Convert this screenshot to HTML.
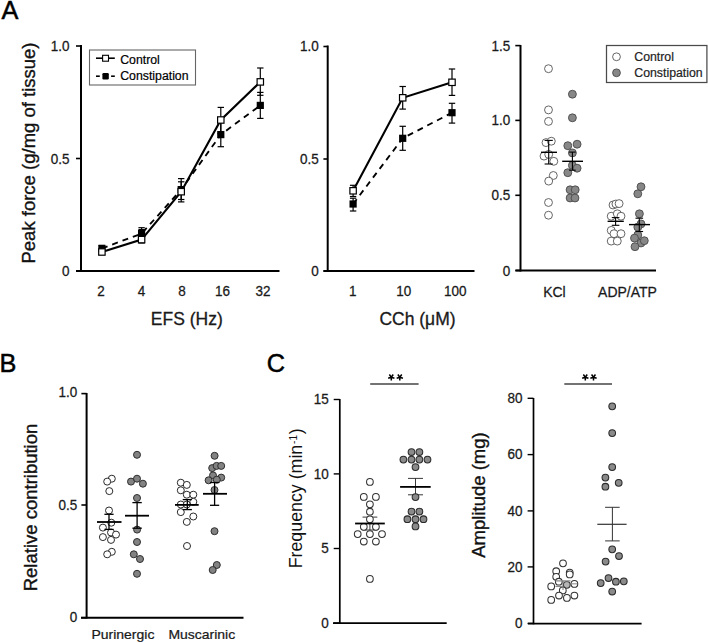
<!DOCTYPE html>
<html><head><meta charset="utf-8"><style>
html,body{margin:0;padding:0;background:#fff;}
body{width:708px;height:643px;overflow:hidden;}
svg{display:block;font-family:"Liberation Sans", sans-serif;}
</style></head><body>
<svg width="708" height="643" viewBox="0 0 708 643">
<rect width="708" height="643" fill="#fff"/>
<text x="1.5" y="19.0" font-size="25.3" text-anchor="start" font-weight="normal" fill="#000" stroke="#000" stroke-width="0.5">A</text>
<text x="-0.6" y="372.2" font-size="25.3" text-anchor="start" font-weight="normal" fill="#000" stroke="#000" stroke-width="0.5">B</text>
<text x="266.8" y="372" font-size="25.3" text-anchor="start" font-weight="normal" fill="#000" stroke="#000" stroke-width="0.5">C</text>
<line x1="81" y1="45" x2="81" y2="272" stroke="#000" stroke-width="2" />
<line x1="76" y1="46" x2="81" y2="46" stroke="#000" stroke-width="1.6" />
<text transform="translate(69.5,51.3) scale(1,1.1)" font-size="13.5" text-anchor="end" font-weight="normal" fill="#1a1a1a" stroke="#1a1a1a" stroke-width="0.25" >1.0</text>
<line x1="76" y1="158.5" x2="81" y2="158.5" stroke="#000" stroke-width="1.6" />
<text transform="translate(69.5,163.8) scale(1,1.1)" font-size="13.5" text-anchor="end" font-weight="normal" fill="#1a1a1a" stroke="#1a1a1a" stroke-width="0.25" >0.5</text>
<line x1="76" y1="271" x2="81" y2="271" stroke="#000" stroke-width="1.6" />
<text transform="translate(69.5,275.8) scale(1,1.1)" font-size="13.5" text-anchor="end" font-weight="normal" fill="#1a1a1a" stroke="#1a1a1a" stroke-width="0.25" >0</text>
<line x1="76" y1="271" x2="279.5" y2="271" stroke="#000" stroke-width="2" />
<text transform="translate(101,296) scale(1,1.1)" font-size="13.5" text-anchor="middle" font-weight="normal" fill="#1a1a1a" stroke="#1a1a1a" stroke-width="0.25" >2</text>
<text transform="translate(141.5,296) scale(1,1.1)" font-size="13.5" text-anchor="middle" font-weight="normal" fill="#1a1a1a" stroke="#1a1a1a" stroke-width="0.25" >4</text>
<text transform="translate(181.9,296) scale(1,1.1)" font-size="13.5" text-anchor="middle" font-weight="normal" fill="#1a1a1a" stroke="#1a1a1a" stroke-width="0.25" >8</text>
<text transform="translate(222.4,296) scale(1,1.1)" font-size="13.5" text-anchor="middle" font-weight="normal" fill="#1a1a1a" stroke="#1a1a1a" stroke-width="0.25" >16</text>
<text transform="translate(263,296) scale(1,1.1)" font-size="13.5" text-anchor="middle" font-weight="normal" fill="#1a1a1a" stroke="#1a1a1a" stroke-width="0.25" >32</text>
<text x="186.8" y="325.4" font-size="17.5" text-anchor="middle" font-weight="normal" fill="#1a1a1a" stroke="#1a1a1a" stroke-width="0.3" >EFS (Hz)</text>
<text transform="translate(35,153) rotate(-90)" font-size="18.5" text-anchor="middle" fill="#111" stroke="#111" stroke-width="0.35" >Peak force (g/mg of tissue)</text>
<rect x="89.5" y="50" width="106" height="35" fill="#fff" stroke="#666" stroke-width="1.1"/>
<line x1="96" y1="58.2" x2="114.8" y2="58.2" stroke="#000" stroke-width="1.6" />
<rect x="102.6" y="55.3" width="5.9" height="5.9" fill="#fff" stroke="#000" stroke-width="1.1"/>
<line x1="96" y1="76.2" x2="99.8" y2="76.2" stroke="#000" stroke-width="1.6" />
<line x1="111.1" y1="76.2" x2="114.8" y2="76.2" stroke="#000" stroke-width="1.6" />
<rect x="102.4" y="73" width="6.4" height="6.4" rx="1.2" fill="#000"/>
<text x="120.2" y="63.6" font-size="12.3" text-anchor="start" font-weight="normal" fill="#000" stroke="#000" stroke-width="0.2" >Control</text>
<text x="120.2" y="79.5" font-size="12.3" text-anchor="start" font-weight="normal" fill="#000" stroke="#000" stroke-width="0.2" >Constipation</text>
<line x1="101.9" y1="245.5" x2="101.9" y2="251" stroke="#000" stroke-width="1.2" />
<line x1="98.7" y1="245.5" x2="105.10000000000001" y2="245.5" stroke="#000" stroke-width="1.2" />
<line x1="98.7" y1="251" x2="105.10000000000001" y2="251" stroke="#000" stroke-width="1.2" />
<line x1="101.9" y1="249.5" x2="101.9" y2="254.5" stroke="#000" stroke-width="1.2" />
<line x1="98.7" y1="249.5" x2="105.10000000000001" y2="249.5" stroke="#000" stroke-width="1.2" />
<line x1="98.7" y1="254.5" x2="105.10000000000001" y2="254.5" stroke="#000" stroke-width="1.2" />
<line x1="141.6" y1="227.7" x2="141.6" y2="239.5" stroke="#000" stroke-width="1.2" />
<line x1="138.4" y1="227.7" x2="144.79999999999998" y2="227.7" stroke="#000" stroke-width="1.2" />
<line x1="138.4" y1="239.5" x2="144.79999999999998" y2="239.5" stroke="#000" stroke-width="1.2" />
<line x1="141.6" y1="229.6" x2="141.6" y2="243" stroke="#000" stroke-width="1.2" />
<line x1="138.4" y1="229.6" x2="144.79999999999998" y2="229.6" stroke="#000" stroke-width="1.2" />
<line x1="138.4" y1="243" x2="144.79999999999998" y2="243" stroke="#000" stroke-width="1.2" />
<line x1="181.2" y1="181.8" x2="181.2" y2="199.5" stroke="#000" stroke-width="1.2" />
<line x1="178.0" y1="181.8" x2="184.39999999999998" y2="181.8" stroke="#000" stroke-width="1.2" />
<line x1="178.0" y1="199.5" x2="184.39999999999998" y2="199.5" stroke="#000" stroke-width="1.2" />
<line x1="181.2" y1="178.6" x2="181.2" y2="201.9" stroke="#000" stroke-width="1.2" />
<line x1="178.0" y1="178.6" x2="184.39999999999998" y2="178.6" stroke="#000" stroke-width="1.2" />
<line x1="178.0" y1="201.9" x2="184.39999999999998" y2="201.9" stroke="#000" stroke-width="1.2" />
<line x1="220.8" y1="121" x2="220.8" y2="146.7" stroke="#000" stroke-width="1.2" />
<line x1="217.60000000000002" y1="121" x2="224.0" y2="121" stroke="#000" stroke-width="1.2" />
<line x1="217.60000000000002" y1="146.7" x2="224.0" y2="146.7" stroke="#000" stroke-width="1.2" />
<line x1="220.8" y1="107.4" x2="220.8" y2="133.5" stroke="#000" stroke-width="1.2" />
<line x1="217.60000000000002" y1="107.4" x2="224.0" y2="107.4" stroke="#000" stroke-width="1.2" />
<line x1="217.60000000000002" y1="133.5" x2="224.0" y2="133.5" stroke="#000" stroke-width="1.2" />
<line x1="260.3" y1="92.4" x2="260.3" y2="118.4" stroke="#000" stroke-width="1.2" />
<line x1="257.1" y1="92.4" x2="263.5" y2="92.4" stroke="#000" stroke-width="1.2" />
<line x1="257.1" y1="118.4" x2="263.5" y2="118.4" stroke="#000" stroke-width="1.2" />
<line x1="260.3" y1="68" x2="260.3" y2="95.3" stroke="#000" stroke-width="1.2" />
<line x1="257.1" y1="68" x2="263.5" y2="68" stroke="#000" stroke-width="1.2" />
<line x1="257.1" y1="95.3" x2="263.5" y2="95.3" stroke="#000" stroke-width="1.2" />
<polyline points="101.9,248.4 141.6,233.6 181.2,189.6 220.8,134.6 260.3,105.4" fill="none" stroke="#000" stroke-width="1.85" stroke-dasharray="6,5"/>
<polyline points="101.9,252.0 141.6,239.6 181.2,191.7 220.8,120.0 260.3,81.9" fill="none" stroke="#000" stroke-width="2.1"/>
<rect x="98.30000000000001" y="244.8" width="7.2" height="7.2" fill="#000"/>
<rect x="138.0" y="230.0" width="7.2" height="7.2" fill="#000"/>
<rect x="177.6" y="186.0" width="7.2" height="7.2" fill="#000"/>
<rect x="217.20000000000002" y="131.0" width="7.2" height="7.2" fill="#000"/>
<rect x="256.7" y="101.80000000000001" width="7.2" height="7.2" fill="#000"/>
<rect x="98.7" y="248.8" width="6.4" height="6.4" fill="#fff" stroke="#000" stroke-width="1.2"/>
<rect x="138.4" y="236.4" width="6.4" height="6.4" fill="#fff" stroke="#000" stroke-width="1.2"/>
<rect x="178.0" y="188.5" width="6.4" height="6.4" fill="#fff" stroke="#000" stroke-width="1.2"/>
<rect x="217.60000000000002" y="116.8" width="6.4" height="6.4" fill="#fff" stroke="#000" stroke-width="1.2"/>
<rect x="257.1" y="78.7" width="6.4" height="6.4" fill="#fff" stroke="#000" stroke-width="1.2"/>
<line x1="327.7" y1="45.5" x2="327.7" y2="272" stroke="#000" stroke-width="2" />
<line x1="323.4" y1="46.5" x2="327.7" y2="46.5" stroke="#000" stroke-width="1.6" />
<text transform="translate(318.8,51.3) scale(1,1.1)" font-size="13.5" text-anchor="end" font-weight="normal" fill="#1a1a1a" stroke="#1a1a1a" stroke-width="0.25" >1.0</text>
<line x1="323.4" y1="159" x2="327.7" y2="159" stroke="#000" stroke-width="1.6" />
<text transform="translate(318.8,164) scale(1,1.1)" font-size="13.5" text-anchor="end" font-weight="normal" fill="#1a1a1a" stroke="#1a1a1a" stroke-width="0.25" >0.5</text>
<line x1="323.4" y1="271" x2="327.7" y2="271" stroke="#000" stroke-width="1.6" />
<text transform="translate(318.8,276) scale(1,1.1)" font-size="13.5" text-anchor="end" font-weight="normal" fill="#1a1a1a" stroke="#1a1a1a" stroke-width="0.25" >0</text>
<line x1="323.5" y1="271" x2="474.5" y2="271" stroke="#000" stroke-width="2" />
<text transform="translate(352.8,296) scale(1,1.1)" font-size="13.5" text-anchor="middle" font-weight="normal" fill="#1a1a1a" stroke="#1a1a1a" stroke-width="0.25" >1</text>
<text transform="translate(403.8,296) scale(1,1.1)" font-size="13.5" text-anchor="middle" font-weight="normal" fill="#1a1a1a" stroke="#1a1a1a" stroke-width="0.25" >10</text>
<text transform="translate(455.2,296) scale(1,1.1)" font-size="13.5" text-anchor="middle" font-weight="normal" fill="#1a1a1a" stroke="#1a1a1a" stroke-width="0.25" >100</text>
<text x="417.5" y="325.4" font-size="17.5" text-anchor="middle" font-weight="normal" fill="#1a1a1a" stroke="#1a1a1a" stroke-width="0.3" >CCh (μM)</text>
<line x1="353.1" y1="198.2" x2="353.1" y2="211" stroke="#000" stroke-width="1.2" />
<line x1="349.90000000000003" y1="198.2" x2="356.3" y2="198.2" stroke="#000" stroke-width="1.2" />
<line x1="349.90000000000003" y1="211" x2="356.3" y2="211" stroke="#000" stroke-width="1.2" />
<line x1="353.1" y1="185.3" x2="353.1" y2="196.5" stroke="#000" stroke-width="1.2" />
<line x1="349.90000000000003" y1="185.3" x2="356.3" y2="185.3" stroke="#000" stroke-width="1.2" />
<line x1="349.90000000000003" y1="196.5" x2="356.3" y2="196.5" stroke="#000" stroke-width="1.2" />
<line x1="402.7" y1="126.3" x2="402.7" y2="150.3" stroke="#000" stroke-width="1.2" />
<line x1="399.5" y1="126.3" x2="405.9" y2="126.3" stroke="#000" stroke-width="1.2" />
<line x1="399.5" y1="150.3" x2="405.9" y2="150.3" stroke="#000" stroke-width="1.2" />
<line x1="402.7" y1="86.5" x2="402.7" y2="109.1" stroke="#000" stroke-width="1.2" />
<line x1="399.5" y1="86.5" x2="405.9" y2="86.5" stroke="#000" stroke-width="1.2" />
<line x1="399.5" y1="109.1" x2="405.9" y2="109.1" stroke="#000" stroke-width="1.2" />
<line x1="452" y1="103.3" x2="452" y2="123.1" stroke="#000" stroke-width="1.2" />
<line x1="448.8" y1="103.3" x2="455.2" y2="103.3" stroke="#000" stroke-width="1.2" />
<line x1="448.8" y1="123.1" x2="455.2" y2="123.1" stroke="#000" stroke-width="1.2" />
<line x1="452" y1="69" x2="452" y2="95.4" stroke="#000" stroke-width="1.2" />
<line x1="448.8" y1="69" x2="455.2" y2="69" stroke="#000" stroke-width="1.2" />
<line x1="448.8" y1="95.4" x2="455.2" y2="95.4" stroke="#000" stroke-width="1.2" />
<polyline points="353.1,204.0 402.7,138.3 452,112.7" fill="none" stroke="#000" stroke-width="1.85" stroke-dasharray="6,5"/>
<polyline points="353.1,190.8 402.7,97.8 452,82.3" fill="none" stroke="#000" stroke-width="2.1"/>
<rect x="349.5" y="200.4" width="7.2" height="7.2" fill="#000"/>
<rect x="399.09999999999997" y="134.70000000000002" width="7.2" height="7.2" fill="#000"/>
<rect x="448.4" y="109.10000000000001" width="7.2" height="7.2" fill="#000"/>
<rect x="349.90000000000003" y="187.60000000000002" width="6.4" height="6.4" fill="#fff" stroke="#000" stroke-width="1.2"/>
<rect x="399.5" y="94.6" width="6.4" height="6.4" fill="#fff" stroke="#000" stroke-width="1.2"/>
<rect x="448.8" y="79.1" width="6.4" height="6.4" fill="#fff" stroke="#000" stroke-width="1.2"/>
<line x1="520.5" y1="45" x2="520.5" y2="271.5" stroke="#000" stroke-width="2" />
<line x1="515.3" y1="45.6" x2="520.5" y2="45.6" stroke="#000" stroke-width="1.6" />
<text transform="translate(510.3,50.6) scale(1,1.1)" font-size="13.5" text-anchor="end" font-weight="normal" fill="#1a1a1a" stroke="#1a1a1a" stroke-width="0.25" >1.5</text>
<line x1="515.3" y1="120.4" x2="520.5" y2="120.4" stroke="#000" stroke-width="1.6" />
<text transform="translate(510.3,125.4) scale(1,1.1)" font-size="13.5" text-anchor="end" font-weight="normal" fill="#1a1a1a" stroke="#1a1a1a" stroke-width="0.25" >1.0</text>
<line x1="515.3" y1="195.3" x2="520.5" y2="195.3" stroke="#000" stroke-width="1.6" />
<text transform="translate(510.3,200.3) scale(1,1.1)" font-size="13.5" text-anchor="end" font-weight="normal" fill="#1a1a1a" stroke="#1a1a1a" stroke-width="0.25" >0.5</text>
<line x1="515.3" y1="270.5" x2="520.5" y2="270.5" stroke="#000" stroke-width="1.6" />
<text transform="translate(510.3,275.5) scale(1,1.1)" font-size="13.5" text-anchor="end" font-weight="normal" fill="#1a1a1a" stroke="#1a1a1a" stroke-width="0.25" >0</text>
<line x1="515.5" y1="270.5" x2="656" y2="270.5" stroke="#000" stroke-width="2" />
<text transform="translate(554.4,296.6) scale(1,1.03)" font-size="14" text-anchor="middle" font-weight="normal" fill="#1a1a1a" stroke="#1a1a1a" stroke-width="0.25" >KCl</text>
<text transform="translate(627.5,296.6) scale(1,1.03)" font-size="14" text-anchor="middle" font-weight="normal" fill="#1a1a1a" stroke="#1a1a1a" stroke-width="0.25" >ADP/ATP</text>
<rect x="606.5" y="45.5" width="100.4" height="37" fill="#fff" stroke="#4a4a4a" stroke-width="1.25"/>
<circle cx="616.5" cy="56.8" r="3.9" fill="#fff" stroke="#555" stroke-width="0.9"/>
<circle cx="616.5" cy="72.8" r="3.9" fill="#878787" stroke="#4a4a4a" stroke-width="0.9"/>
<text x="634.3" y="60.6" font-size="12.3" text-anchor="start" font-weight="normal" fill="#222" stroke="#222" stroke-width="0.2" >Control</text>
<text x="634.3" y="77.2" font-size="12.3" text-anchor="start" font-weight="normal" fill="#222" stroke="#222" stroke-width="0.2" >Constipation</text>
<circle cx="548.5" cy="68.7" r="3.95" fill="#fff" stroke="#555" stroke-width="0.9"/>
<circle cx="548.5" cy="109.9" r="3.95" fill="#fff" stroke="#555" stroke-width="0.9"/>
<circle cx="548.5" cy="121.4" r="3.95" fill="#fff" stroke="#555" stroke-width="0.9"/>
<circle cx="546" cy="142.6" r="3.95" fill="#fff" stroke="#555" stroke-width="0.9"/>
<circle cx="551.3" cy="141.2" r="3.95" fill="#fff" stroke="#555" stroke-width="0.9"/>
<circle cx="544" cy="156.1" r="3.95" fill="#fff" stroke="#555" stroke-width="0.9"/>
<circle cx="548.7" cy="154.4" r="3.95" fill="#fff" stroke="#555" stroke-width="0.9"/>
<circle cx="553.8" cy="161.3" r="3.95" fill="#fff" stroke="#555" stroke-width="0.9"/>
<circle cx="553.3" cy="175.5" r="3.95" fill="#fff" stroke="#555" stroke-width="0.9"/>
<circle cx="548.7" cy="181.1" r="3.95" fill="#fff" stroke="#555" stroke-width="0.9"/>
<circle cx="548.5" cy="202.5" r="3.95" fill="#fff" stroke="#555" stroke-width="0.9"/>
<circle cx="548.5" cy="215.2" r="3.95" fill="#fff" stroke="#555" stroke-width="0.9"/>
<circle cx="572.4" cy="94.2" r="3.95" fill="#878787" stroke="#4a4a4a" stroke-width="0.9"/>
<circle cx="572.4" cy="117.8" r="3.95" fill="#878787" stroke="#4a4a4a" stroke-width="0.9"/>
<circle cx="567.8" cy="145.7" r="3.95" fill="#878787" stroke="#4a4a4a" stroke-width="0.9"/>
<circle cx="577.1" cy="144.2" r="3.95" fill="#878787" stroke="#4a4a4a" stroke-width="0.9"/>
<circle cx="572.4" cy="152.9" r="3.95" fill="#878787" stroke="#4a4a4a" stroke-width="0.9"/>
<circle cx="572.4" cy="165.4" r="3.95" fill="#878787" stroke="#4a4a4a" stroke-width="0.9"/>
<circle cx="577.1" cy="168.2" r="3.95" fill="#878787" stroke="#4a4a4a" stroke-width="0.9"/>
<circle cx="567.8" cy="172.7" r="3.95" fill="#878787" stroke="#4a4a4a" stroke-width="0.9"/>
<circle cx="570.1" cy="189.8" r="3.95" fill="#878787" stroke="#4a4a4a" stroke-width="0.9"/>
<circle cx="575.2" cy="189.8" r="3.95" fill="#878787" stroke="#4a4a4a" stroke-width="0.9"/>
<circle cx="570.1" cy="198" r="3.95" fill="#878787" stroke="#4a4a4a" stroke-width="0.9"/>
<circle cx="575" cy="198" r="3.95" fill="#878787" stroke="#4a4a4a" stroke-width="0.9"/>
<circle cx="613" cy="205" r="3.95" fill="#fff" stroke="#555" stroke-width="0.9"/>
<circle cx="615.9" cy="204" r="3.95" fill="#fff" stroke="#555" stroke-width="0.9"/>
<circle cx="619.1" cy="203.6" r="3.95" fill="#fff" stroke="#555" stroke-width="0.9"/>
<circle cx="611.2" cy="216.2" r="3.95" fill="#fff" stroke="#555" stroke-width="0.9"/>
<circle cx="617.3" cy="213.8" r="3.95" fill="#fff" stroke="#555" stroke-width="0.9"/>
<circle cx="621" cy="216.2" r="3.95" fill="#fff" stroke="#555" stroke-width="0.9"/>
<circle cx="611.2" cy="230.4" r="3.95" fill="#fff" stroke="#555" stroke-width="0.9"/>
<circle cx="614" cy="233.7" r="3.95" fill="#fff" stroke="#555" stroke-width="0.9"/>
<circle cx="621" cy="233.7" r="3.95" fill="#fff" stroke="#555" stroke-width="0.9"/>
<circle cx="611.2" cy="241.1" r="3.95" fill="#fff" stroke="#555" stroke-width="0.9"/>
<circle cx="617.3" cy="241.1" r="3.95" fill="#fff" stroke="#555" stroke-width="0.9"/>
<circle cx="641" cy="186.8" r="3.95" fill="#878787" stroke="#4a4a4a" stroke-width="0.9"/>
<circle cx="637.8" cy="193.8" r="3.95" fill="#878787" stroke="#4a4a4a" stroke-width="0.9"/>
<circle cx="639.4" cy="213.8" r="3.95" fill="#878787" stroke="#4a4a4a" stroke-width="0.9"/>
<circle cx="641" cy="223.9" r="3.95" fill="#878787" stroke="#4a4a4a" stroke-width="0.9"/>
<circle cx="637.8" cy="227.1" r="3.95" fill="#878787" stroke="#4a4a4a" stroke-width="0.9"/>
<circle cx="637.8" cy="235" r="3.95" fill="#878787" stroke="#4a4a4a" stroke-width="0.9"/>
<circle cx="634.5" cy="238.1" r="3.95" fill="#878787" stroke="#4a4a4a" stroke-width="0.9"/>
<circle cx="641" cy="243" r="3.95" fill="#878787" stroke="#4a4a4a" stroke-width="0.9"/>
<circle cx="644.3" cy="240.7" r="3.95" fill="#878787" stroke="#4a4a4a" stroke-width="0.9"/>
<circle cx="635" cy="246.7" r="3.95" fill="#878787" stroke="#4a4a4a" stroke-width="0.9"/>
<line x1="541" y1="152.3" x2="557" y2="152.3" stroke="#000" stroke-width="1.4" />
<line x1="548.7" y1="140.4" x2="548.7" y2="164" stroke="#000" stroke-width="1.1" />
<line x1="544.6" y1="140.4" x2="552.8000000000001" y2="140.4" stroke="#000" stroke-width="1.1" />
<line x1="544.6" y1="164" x2="552.8000000000001" y2="164" stroke="#000" stroke-width="1.1" />
<line x1="562.2" y1="161.3" x2="583" y2="161.3" stroke="#000" stroke-width="1.4" />
<line x1="572.4" y1="152.1" x2="572.4" y2="170.2" stroke="#000" stroke-width="1.1" />
<line x1="569.1" y1="152.1" x2="575.6999999999999" y2="152.1" stroke="#000" stroke-width="1.1" />
<line x1="569.1" y1="170.2" x2="575.6999999999999" y2="170.2" stroke="#000" stroke-width="1.1" />
<line x1="607.6" y1="221.3" x2="623.8" y2="221.3" stroke="#000" stroke-width="1.4" />
<line x1="615.6" y1="217.6" x2="615.6" y2="225.3" stroke="#000" stroke-width="1.1" />
<line x1="611.8000000000001" y1="217.6" x2="619.4" y2="217.6" stroke="#000" stroke-width="1.1" />
<line x1="611.8000000000001" y1="225.3" x2="619.4" y2="225.3" stroke="#000" stroke-width="1.1" />
<line x1="629" y1="224.6" x2="650" y2="224.6" stroke="#000" stroke-width="1.4" />
<line x1="639.3" y1="218.2" x2="639.3" y2="231.5" stroke="#000" stroke-width="1.1" />
<line x1="635.5" y1="218.2" x2="643.0999999999999" y2="218.2" stroke="#000" stroke-width="1.1" />
<line x1="635.5" y1="231.5" x2="643.0999999999999" y2="231.5" stroke="#000" stroke-width="1.1" />
<line x1="86.6" y1="393" x2="86.6" y2="618.5" stroke="#000" stroke-width="2" />
<line x1="81.4" y1="393.6" x2="86.6" y2="393.6" stroke="#000" stroke-width="1.6" />
<text transform="translate(77.3,397.3) scale(1,1.1)" font-size="13.5" text-anchor="end" font-weight="normal" fill="#1a1a1a" stroke="#1a1a1a" stroke-width="0.25" >1.0</text>
<line x1="81.4" y1="505" x2="86.6" y2="505" stroke="#000" stroke-width="1.6" />
<text transform="translate(77.3,509.5) scale(1,1.1)" font-size="13.5" text-anchor="end" font-weight="normal" fill="#1a1a1a" stroke="#1a1a1a" stroke-width="0.25" >0.5</text>
<line x1="81.4" y1="617.7" x2="86.6" y2="617.7" stroke="#000" stroke-width="1.6" />
<text transform="translate(77.3,621.8) scale(1,1.1)" font-size="13.5" text-anchor="end" font-weight="normal" fill="#1a1a1a" stroke="#1a1a1a" stroke-width="0.25" >0</text>
<line x1="81" y1="617.7" x2="243.5" y2="617.7" stroke="#000" stroke-width="2" />
<text transform="translate(122.9,638.6) scale(1,0.93)" font-size="14" text-anchor="middle" font-weight="normal" fill="#1a1a1a" stroke="#1a1a1a" stroke-width="0.25" >Purinergic</text>
<text transform="translate(201.8,638.6) scale(1,0.93)" font-size="14" text-anchor="middle" font-weight="normal" fill="#1a1a1a" stroke="#1a1a1a" stroke-width="0.25" >Muscarinic</text>
<text transform="translate(36.7,507.5) rotate(-90)" font-size="18.5" text-anchor="middle" fill="#111" stroke="#111" stroke-width="0.35" >Relative contribution</text>
<circle cx="111.8" cy="478.7" r="3.5" fill="#fff" stroke="#2a2a2a" stroke-width="1.0"/>
<circle cx="107.2" cy="481.6" r="3.5" fill="#fff" stroke="#2a2a2a" stroke-width="1.0"/>
<circle cx="109.3" cy="491.1" r="3.5" fill="#fff" stroke="#2a2a2a" stroke-width="1.0"/>
<circle cx="109" cy="510.5" r="3.5" fill="#fff" stroke="#2a2a2a" stroke-width="1.0"/>
<circle cx="111.3" cy="522.7" r="3.5" fill="#fff" stroke="#2a2a2a" stroke-width="1.0"/>
<circle cx="102.9" cy="527.6" r="3.5" fill="#fff" stroke="#2a2a2a" stroke-width="1.0"/>
<circle cx="111" cy="532.5" r="3.5" fill="#fff" stroke="#2a2a2a" stroke-width="1.0"/>
<circle cx="116" cy="534.6" r="3.5" fill="#fff" stroke="#2a2a2a" stroke-width="1.0"/>
<circle cx="102.9" cy="537.1" r="3.5" fill="#fff" stroke="#2a2a2a" stroke-width="1.0"/>
<circle cx="111" cy="539.9" r="3.5" fill="#fff" stroke="#2a2a2a" stroke-width="1.0"/>
<circle cx="111.8" cy="551.8" r="3.5" fill="#fff" stroke="#2a2a2a" stroke-width="1.0"/>
<circle cx="107.2" cy="554.3" r="3.5" fill="#fff" stroke="#2a2a2a" stroke-width="1.0"/>
<circle cx="137" cy="454.8" r="3.5" fill="#828282" stroke="#2e2e2e" stroke-width="1.0"/>
<circle cx="131" cy="481.6" r="3.5" fill="#828282" stroke="#2e2e2e" stroke-width="1.0"/>
<circle cx="137" cy="478.7" r="3.5" fill="#828282" stroke="#2e2e2e" stroke-width="1.0"/>
<circle cx="142.9" cy="483.7" r="3.5" fill="#828282" stroke="#2e2e2e" stroke-width="1.0"/>
<circle cx="137" cy="498" r="3.5" fill="#828282" stroke="#2e2e2e" stroke-width="1.0"/>
<circle cx="137.1" cy="529.6" r="3.5" fill="#828282" stroke="#2e2e2e" stroke-width="1.0"/>
<circle cx="137" cy="542" r="3.5" fill="#828282" stroke="#2e2e2e" stroke-width="1.0"/>
<circle cx="133.8" cy="554.3" r="3.5" fill="#828282" stroke="#2e2e2e" stroke-width="1.0"/>
<circle cx="140" cy="559" r="3.5" fill="#828282" stroke="#2e2e2e" stroke-width="1.0"/>
<circle cx="137" cy="573.8" r="3.5" fill="#828282" stroke="#2e2e2e" stroke-width="1.0"/>
<circle cx="180.8" cy="482.7" r="3.5" fill="#fff" stroke="#2a2a2a" stroke-width="1.0"/>
<circle cx="186.8" cy="484.9" r="3.5" fill="#fff" stroke="#2a2a2a" stroke-width="1.0"/>
<circle cx="180.8" cy="490.3" r="3.5" fill="#fff" stroke="#2a2a2a" stroke-width="1.0"/>
<circle cx="186.8" cy="494.7" r="3.5" fill="#fff" stroke="#2a2a2a" stroke-width="1.0"/>
<circle cx="193.3" cy="494.7" r="3.5" fill="#fff" stroke="#2a2a2a" stroke-width="1.0"/>
<circle cx="193.3" cy="501.8" r="3.5" fill="#fff" stroke="#2a2a2a" stroke-width="1.0"/>
<circle cx="180.8" cy="504.5" r="3.5" fill="#fff" stroke="#2a2a2a" stroke-width="1.0"/>
<circle cx="186.8" cy="504.5" r="3.5" fill="#fff" stroke="#2a2a2a" stroke-width="1.0"/>
<circle cx="180.8" cy="512.1" r="3.5" fill="#fff" stroke="#2a2a2a" stroke-width="1.0"/>
<circle cx="193.3" cy="516.5" r="3.5" fill="#fff" stroke="#2a2a2a" stroke-width="1.0"/>
<circle cx="186.8" cy="521.9" r="3.5" fill="#fff" stroke="#2a2a2a" stroke-width="1.0"/>
<circle cx="187" cy="546" r="3.5" fill="#fff" stroke="#2a2a2a" stroke-width="1.0"/>
<circle cx="214.6" cy="455.8" r="3.5" fill="#828282" stroke="#2e2e2e" stroke-width="1.0"/>
<circle cx="212.2" cy="468.1" r="3.5" fill="#828282" stroke="#2e2e2e" stroke-width="1.0"/>
<circle cx="216.6" cy="465.9" r="3.5" fill="#828282" stroke="#2e2e2e" stroke-width="1.0"/>
<circle cx="221.2" cy="465.9" r="3.5" fill="#828282" stroke="#2e2e2e" stroke-width="1.0"/>
<circle cx="213" cy="475.4" r="3.5" fill="#828282" stroke="#2e2e2e" stroke-width="1.0"/>
<circle cx="221.2" cy="477.6" r="3.5" fill="#828282" stroke="#2e2e2e" stroke-width="1.0"/>
<circle cx="208.6" cy="480.3" r="3.5" fill="#828282" stroke="#2e2e2e" stroke-width="1.0"/>
<circle cx="216.8" cy="479.7" r="3.5" fill="#828282" stroke="#2e2e2e" stroke-width="1.0"/>
<circle cx="214.5" cy="490" r="3.5" fill="#828282" stroke="#2e2e2e" stroke-width="1.0"/>
<circle cx="214.5" cy="531.2" r="3.5" fill="#828282" stroke="#2e2e2e" stroke-width="1.0"/>
<circle cx="216.8" cy="565" r="3.5" fill="#828282" stroke="#2e2e2e" stroke-width="1.0"/>
<circle cx="212.7" cy="570" r="3.5" fill="#828282" stroke="#2e2e2e" stroke-width="1.0"/>
<line x1="97" y1="522" x2="121.5" y2="522" stroke="#000" stroke-width="1.8" />
<line x1="109" y1="514.3" x2="109" y2="529.4" stroke="#000" stroke-width="1.3" />
<line x1="104.4" y1="514.3" x2="113.6" y2="514.3" stroke="#000" stroke-width="1.3" />
<line x1="104.4" y1="529.4" x2="113.6" y2="529.4" stroke="#000" stroke-width="1.3" />
<line x1="125" y1="515.7" x2="149" y2="515.7" stroke="#000" stroke-width="1.8" />
<line x1="137.1" y1="502.6" x2="137.1" y2="528.2" stroke="#000" stroke-width="1.3" />
<line x1="132.4" y1="502.6" x2="141.79999999999998" y2="502.6" stroke="#000" stroke-width="1.3" />
<line x1="132.4" y1="528.2" x2="141.79999999999998" y2="528.2" stroke="#000" stroke-width="1.3" />
<line x1="175" y1="504.9" x2="198.7" y2="504.9" stroke="#000" stroke-width="1.8" />
<line x1="187.3" y1="499.6" x2="187.3" y2="509.6" stroke="#000" stroke-width="1.3" />
<line x1="182.70000000000002" y1="499.6" x2="191.9" y2="499.6" stroke="#000" stroke-width="1.3" />
<line x1="182.70000000000002" y1="509.6" x2="191.9" y2="509.6" stroke="#000" stroke-width="1.3" />
<line x1="203" y1="493.8" x2="227" y2="493.8" stroke="#000" stroke-width="1.8" />
<line x1="214.6" y1="482.5" x2="214.6" y2="505.3" stroke="#000" stroke-width="1.3" />
<line x1="210.0" y1="482.5" x2="219.2" y2="482.5" stroke="#000" stroke-width="1.3" />
<line x1="210.0" y1="505.3" x2="219.2" y2="505.3" stroke="#000" stroke-width="1.3" />
<line x1="339.8" y1="399" x2="339.8" y2="623.8" stroke="#000" stroke-width="1.7" />
<line x1="333.7" y1="399.5" x2="339.8" y2="399.5" stroke="#000" stroke-width="1.4" />
<text transform="translate(328.7,403.8) scale(1,1.1)" font-size="13.5" text-anchor="end" font-weight="normal" fill="#1a1a1a" stroke="#1a1a1a" stroke-width="0.25" >15</text>
<line x1="333.7" y1="473.9" x2="339.8" y2="473.9" stroke="#000" stroke-width="1.4" />
<text transform="translate(328.7,478.9) scale(1,1.1)" font-size="13.5" text-anchor="end" font-weight="normal" fill="#1a1a1a" stroke="#1a1a1a" stroke-width="0.25" >10</text>
<line x1="333.7" y1="548.5" x2="339.8" y2="548.5" stroke="#000" stroke-width="1.4" />
<text transform="translate(328.7,553.3) scale(1,1.1)" font-size="13.5" text-anchor="end" font-weight="normal" fill="#1a1a1a" stroke="#1a1a1a" stroke-width="0.25" >5</text>
<line x1="333.7" y1="623.1" x2="339.8" y2="623.1" stroke="#000" stroke-width="1.4" />
<text transform="translate(328.7,627.7) scale(1,1.1)" font-size="13.5" text-anchor="end" font-weight="normal" fill="#1a1a1a" stroke="#1a1a1a" stroke-width="0.25" >0</text>
<line x1="333" y1="623.1" x2="446.7" y2="623.1" stroke="#000" stroke-width="1.8" />
<line x1="370.2" y1="384" x2="418.6" y2="384" stroke="#444" stroke-width="1.6" />
<text transform="translate(302.3,568.3) rotate(-90)" font-size="17.8" text-anchor="start" fill="#111">Frequency (min<tspan font-size="10" dx="0.9" dy="-5.8">-1</tspan><tspan dx="0.6" dy="5.8">)</tspan></text>
<line x1="369.9" y1="517.1" x2="369.9" y2="530" stroke="#222" stroke-width="0.9" />
<line x1="362.5" y1="517.1" x2="377.29999999999995" y2="517.1" stroke="#222" stroke-width="0.9" />
<line x1="362.5" y1="530" x2="377.29999999999995" y2="530" stroke="#222" stroke-width="0.9" />
<circle cx="369.9" cy="481.9" r="3.35" fill="#fff" stroke="#333" stroke-width="1.05"/>
<circle cx="363.8" cy="496.9" r="3.35" fill="#fff" stroke="#333" stroke-width="1.05"/>
<circle cx="375.9" cy="496.9" r="3.35" fill="#fff" stroke="#333" stroke-width="1.05"/>
<circle cx="369.9" cy="504.3" r="3.35" fill="#fff" stroke="#333" stroke-width="1.05"/>
<circle cx="369.9" cy="511.7" r="3.35" fill="#fff" stroke="#333" stroke-width="1.05"/>
<circle cx="369.9" cy="519.3" r="3.35" fill="#fff" stroke="#333" stroke-width="1.05"/>
<circle cx="363.8" cy="526.8" r="3.35" fill="#fff" stroke="#333" stroke-width="1.05"/>
<circle cx="375.9" cy="526.8" r="3.35" fill="#fff" stroke="#333" stroke-width="1.05"/>
<circle cx="357.7" cy="534.1" r="3.35" fill="#fff" stroke="#333" stroke-width="1.05"/>
<circle cx="369.9" cy="534.1" r="3.35" fill="#fff" stroke="#333" stroke-width="1.05"/>
<circle cx="382" cy="534.1" r="3.35" fill="#fff" stroke="#333" stroke-width="1.05"/>
<circle cx="363.8" cy="541.5" r="3.35" fill="#fff" stroke="#333" stroke-width="1.05"/>
<circle cx="375.9" cy="541.5" r="3.35" fill="#fff" stroke="#333" stroke-width="1.05"/>
<circle cx="369.9" cy="578.9" r="3.35" fill="#fff" stroke="#333" stroke-width="1.05"/>
<line x1="355.1" y1="523.5" x2="384.8" y2="523.5" stroke="#000" stroke-width="1.8" />
<line x1="415.5" y1="478.4" x2="415.5" y2="494.8" stroke="#222" stroke-width="0.9" />
<line x1="408.0" y1="478.4" x2="423.0" y2="478.4" stroke="#222" stroke-width="0.9" />
<line x1="408.0" y1="494.8" x2="423.0" y2="494.8" stroke="#222" stroke-width="0.9" />
<circle cx="411.5" cy="452" r="3.35" fill="#8a8a8a" stroke="#2a2a2a" stroke-width="1.05"/>
<circle cx="419.4" cy="452" r="3.35" fill="#8a8a8a" stroke="#2a2a2a" stroke-width="1.05"/>
<circle cx="403.4" cy="459.6" r="3.35" fill="#8a8a8a" stroke="#2a2a2a" stroke-width="1.05"/>
<circle cx="411.5" cy="459.6" r="3.35" fill="#8a8a8a" stroke="#2a2a2a" stroke-width="1.05"/>
<circle cx="419.4" cy="459.6" r="3.35" fill="#8a8a8a" stroke="#2a2a2a" stroke-width="1.05"/>
<circle cx="427.5" cy="459.6" r="3.35" fill="#8a8a8a" stroke="#2a2a2a" stroke-width="1.05"/>
<circle cx="415.5" cy="467.1" r="3.35" fill="#8a8a8a" stroke="#2a2a2a" stroke-width="1.05"/>
<circle cx="415.5" cy="497.1" r="3.35" fill="#8a8a8a" stroke="#2a2a2a" stroke-width="1.05"/>
<circle cx="411.5" cy="511.5" r="3.35" fill="#8a8a8a" stroke="#2a2a2a" stroke-width="1.05"/>
<circle cx="419.4" cy="511.5" r="3.35" fill="#8a8a8a" stroke="#2a2a2a" stroke-width="1.05"/>
<circle cx="407.4" cy="519.2" r="3.35" fill="#8a8a8a" stroke="#2a2a2a" stroke-width="1.05"/>
<circle cx="415.5" cy="519.2" r="3.35" fill="#8a8a8a" stroke="#2a2a2a" stroke-width="1.05"/>
<circle cx="423.5" cy="519.2" r="3.35" fill="#8a8a8a" stroke="#2a2a2a" stroke-width="1.05"/>
<circle cx="415.5" cy="526.4" r="3.35" fill="#8a8a8a" stroke="#2a2a2a" stroke-width="1.05"/>
<line x1="400.1" y1="486.9" x2="430.7" y2="486.9" stroke="#000" stroke-width="1.8" />
<line x1="533.5" y1="398" x2="533.5" y2="624.3" stroke="#000" stroke-width="1.7" />
<line x1="527.6" y1="398.3" x2="533.5" y2="398.3" stroke="#000" stroke-width="1.4" />
<text transform="translate(522.6,402.6) scale(1,1.1)" font-size="13.5" text-anchor="end" font-weight="normal" fill="#1a1a1a" stroke="#1a1a1a" stroke-width="0.25" >80</text>
<line x1="527.6" y1="454.6" x2="533.5" y2="454.6" stroke="#000" stroke-width="1.4" />
<text transform="translate(522.6,459.2) scale(1,1.1)" font-size="13.5" text-anchor="end" font-weight="normal" fill="#1a1a1a" stroke="#1a1a1a" stroke-width="0.25" >60</text>
<line x1="527.6" y1="510.9" x2="533.5" y2="510.9" stroke="#000" stroke-width="1.4" />
<text transform="translate(522.6,515.5) scale(1,1.1)" font-size="13.5" text-anchor="end" font-weight="normal" fill="#1a1a1a" stroke="#1a1a1a" stroke-width="0.25" >40</text>
<line x1="527.6" y1="566.9" x2="533.5" y2="566.9" stroke="#000" stroke-width="1.4" />
<text transform="translate(522.6,571.5) scale(1,1.1)" font-size="13.5" text-anchor="end" font-weight="normal" fill="#1a1a1a" stroke="#1a1a1a" stroke-width="0.25" >20</text>
<line x1="527.6" y1="623.4" x2="533.5" y2="623.4" stroke="#000" stroke-width="1.4" />
<text transform="translate(522.6,628) scale(1,1.1)" font-size="13.5" text-anchor="end" font-weight="normal" fill="#1a1a1a" stroke="#1a1a1a" stroke-width="0.25" >0</text>
<line x1="527.9" y1="623.6" x2="641.6" y2="623.6" stroke="#000" stroke-width="1.8" />
<line x1="564.3" y1="384" x2="612" y2="384" stroke="#444" stroke-width="1.6" />
<text transform="translate(485,495) rotate(-90)" font-size="18.5" text-anchor="middle" fill="#111" stroke="#111" stroke-width="0.35" >Amplitude (mg)</text>
<circle cx="563" cy="563.3" r="3.35" fill="#fff" stroke="#333" stroke-width="1.05"/>
<circle cx="556.2" cy="571.2" r="3.35" fill="#fff" stroke="#333" stroke-width="1.05"/>
<circle cx="569.7" cy="572.6" r="3.35" fill="#fff" stroke="#333" stroke-width="1.05"/>
<circle cx="569.7" cy="574.4" r="3.35" fill="#fff" stroke="#333" stroke-width="1.05"/>
<circle cx="556.2" cy="576.8" r="3.35" fill="#fff" stroke="#333" stroke-width="1.05"/>
<circle cx="558.8" cy="581.7" r="3.35" fill="#fff" stroke="#333" stroke-width="1.05"/>
<circle cx="566.8" cy="584.8" r="3.35" fill="#b5b5b5" stroke="#333" stroke-width="1.05"/>
<circle cx="574.4" cy="583.9" r="3.35" fill="#fff" stroke="#333" stroke-width="1.05"/>
<circle cx="551.2" cy="586.4" r="3.35" fill="#fff" stroke="#333" stroke-width="1.05"/>
<circle cx="562.8" cy="590.4" r="3.35" fill="#fff" stroke="#333" stroke-width="1.05"/>
<circle cx="559" cy="595.5" r="3.35" fill="#fff" stroke="#333" stroke-width="1.05"/>
<circle cx="566.9" cy="597.9" r="3.35" fill="#fff" stroke="#333" stroke-width="1.05"/>
<circle cx="574.4" cy="595.5" r="3.35" fill="#fff" stroke="#333" stroke-width="1.05"/>
<circle cx="551.2" cy="599.9" r="3.35" fill="#fff" stroke="#333" stroke-width="1.05"/>
<line x1="555.5" y1="580.9" x2="570.5" y2="580.9" stroke="#8a8a8a" stroke-width="1.3" />
<line x1="555.5" y1="586.4" x2="562.5" y2="586.4" stroke="#8a8a8a" stroke-width="1.3" />
<line x1="571.5" y1="583.8" x2="577" y2="583.8" stroke="#999" stroke-width="1.2" />
<line x1="563" y1="580.9" x2="563" y2="590" stroke="#666" stroke-width="0.9" />
<circle cx="612.2" cy="406.3" r="3.35" fill="#8a8a8a" stroke="#2a2a2a" stroke-width="1.05"/>
<circle cx="612.2" cy="433.1" r="3.35" fill="#8a8a8a" stroke="#2a2a2a" stroke-width="1.05"/>
<circle cx="612.2" cy="467.1" r="3.35" fill="#8a8a8a" stroke="#2a2a2a" stroke-width="1.05"/>
<circle cx="605.4" cy="477.6" r="3.35" fill="#8a8a8a" stroke="#2a2a2a" stroke-width="1.05"/>
<circle cx="618.7" cy="482.8" r="3.35" fill="#8a8a8a" stroke="#2a2a2a" stroke-width="1.05"/>
<circle cx="605.4" cy="486.7" r="3.35" fill="#8a8a8a" stroke="#2a2a2a" stroke-width="1.05"/>
<circle cx="612.2" cy="549.3" r="3.35" fill="#8a8a8a" stroke="#2a2a2a" stroke-width="1.05"/>
<circle cx="619" cy="556" r="3.35" fill="#8a8a8a" stroke="#2a2a2a" stroke-width="1.05"/>
<circle cx="605.6" cy="561.6" r="3.35" fill="#8a8a8a" stroke="#2a2a2a" stroke-width="1.05"/>
<circle cx="608.5" cy="578" r="3.35" fill="#8a8a8a" stroke="#2a2a2a" stroke-width="1.05"/>
<circle cx="600.7" cy="583.1" r="3.35" fill="#8a8a8a" stroke="#2a2a2a" stroke-width="1.05"/>
<circle cx="615.9" cy="581.7" r="3.35" fill="#8a8a8a" stroke="#2a2a2a" stroke-width="1.05"/>
<circle cx="623.8" cy="581.3" r="3.35" fill="#8a8a8a" stroke="#2a2a2a" stroke-width="1.05"/>
<circle cx="612.2" cy="591.5" r="3.35" fill="#8a8a8a" stroke="#2a2a2a" stroke-width="1.05"/>
<line x1="597.3" y1="524.3" x2="626.6" y2="524.3" stroke="#333" stroke-width="1.2" />
<line x1="612.4" y1="507.3" x2="612.4" y2="540.9" stroke="#333" stroke-width="1.0" />
<line x1="605.1" y1="507.3" x2="619.6999999999999" y2="507.3" stroke="#333" stroke-width="1.0" />
<line x1="605.1" y1="540.9" x2="619.6999999999999" y2="540.9" stroke="#333" stroke-width="1.0" />
<path d="M391.3,377.2L391.30,380.50M391.3,377.2L388.16,378.22M391.3,377.2L389.36,374.53M391.3,377.2L393.24,374.53M391.3,377.2L394.44,378.22" stroke="#000" stroke-width="1.5" stroke-linecap="butt" fill="none"/>
<path d="M399.8,377.2L399.80,380.50M399.8,377.2L396.66,378.22M399.8,377.2L397.86,374.53M399.8,377.2L401.74,374.53M399.8,377.2L402.94,378.22" stroke="#000" stroke-width="1.5" stroke-linecap="butt" fill="none"/>
<path d="M585.3,377.2L585.30,380.50M585.3,377.2L582.16,378.22M585.3,377.2L583.36,374.53M585.3,377.2L587.24,374.53M585.3,377.2L588.44,378.22" stroke="#000" stroke-width="1.5" stroke-linecap="butt" fill="none"/>
<path d="M593.5,377.2L593.50,380.50M593.5,377.2L590.36,378.22M593.5,377.2L591.56,374.53M593.5,377.2L595.44,374.53M593.5,377.2L596.64,378.22" stroke="#000" stroke-width="1.5" stroke-linecap="butt" fill="none"/>
</svg>
</body></html>
